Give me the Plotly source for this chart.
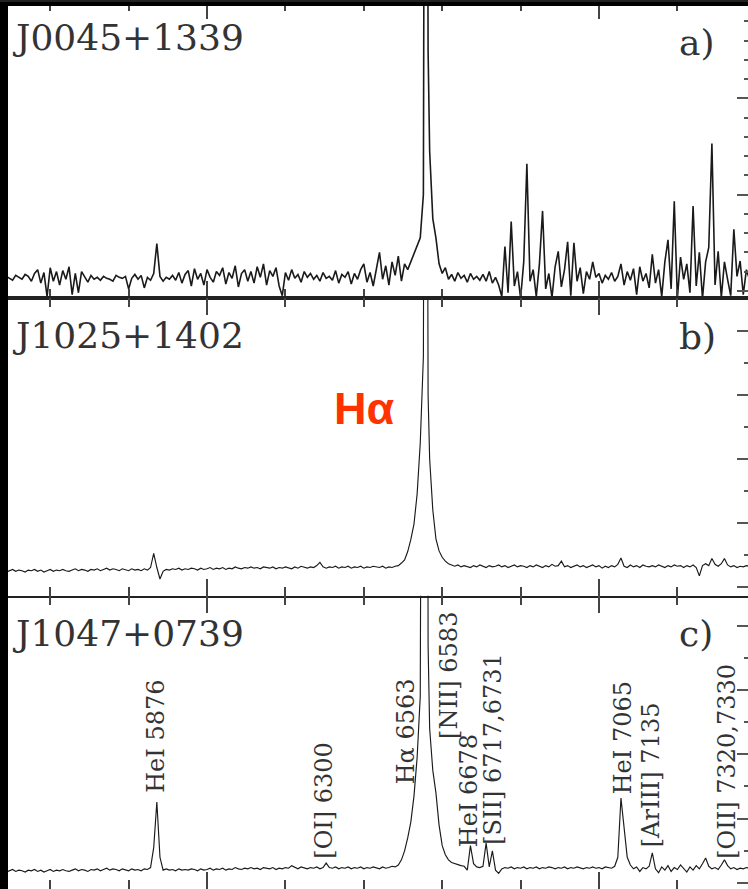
import plotly.graph_objects as go

# ---------------- data ----------------
wavelength = [
    5472, 5480, 5488, 5496, 5504, 5512, 5520, 5528, 5536, 5544,
    5552, 5560, 5568, 5576, 5584, 5592, 5600, 5608, 5616, 5624,
    5632, 5640, 5648, 5656, 5664, 5672, 5680, 5688, 5696, 5704,
    5712, 5720, 5728, 5736, 5744, 5752, 5760, 5768, 5776, 5784,
    5792, 5800, 5808, 5816, 5824, 5832, 5840, 5848, 5856, 5864,
    5872, 5880, 5888, 5896, 5904, 5912, 5920, 5928, 5936, 5944,
    5952, 5960, 5968, 5976, 5984, 5992, 6000, 6008, 6016, 6024,
    6032, 6040, 6048, 6056, 6064, 6072, 6080, 6088, 6096, 6104,
    6112, 6120, 6128, 6136, 6144, 6152, 6160, 6168, 6176, 6184,
    6192, 6200, 6208, 6216, 6224, 6232, 6240, 6248, 6256, 6264,
    6272, 6280, 6288, 6296, 6304, 6312, 6320, 6328, 6336, 6344,
    6352, 6360, 6368, 6376, 6384, 6392, 6400, 6408, 6416, 6424,
    6432, 6440, 6448, 6456, 6464, 6472, 6480, 6488, 6496, 6504,
    6512, 6520, 6528, 6536, 6544, 6552, 6558, 6564, 6568, 6576,
    6584, 6592, 6600, 6608, 6616, 6624, 6632, 6640, 6648, 6656,
    6664, 6672, 6680, 6688, 6696, 6704, 6712, 6720, 6728, 6736,
    6744, 6752, 6760, 6768, 6776, 6784, 6792, 6800, 6808, 6816,
    6824, 6832, 6840, 6848, 6856, 6864, 6872, 6880, 6888, 6896,
    6904, 6912, 6920, 6928, 6936, 6944, 6952, 6960, 6968, 6976,
    6984, 6992, 7000, 7008, 7016, 7024, 7032, 7040, 7048, 7056,
    7064, 7072, 7080, 7088, 7096, 7104, 7112, 7120, 7128, 7136,
    7144, 7152, 7160, 7168, 7176, 7184, 7192, 7200, 7208, 7216,
    7224, 7232, 7240, 7248, 7256, 7264, 7272, 7280, 7288, 7296,
    7304, 7312, 7320, 7328, 7336, 7344, 7352, 7360, 7368, 7376,
    7384,
]

flux_a = [  # J0045+1339
    0.14, 0.12, 0.15, 0.13, 0.11, 0.16, 0.14, 0.12, 0.17, 0.15,
    0.10, 0.18, 0.22, 0.08, 0.19, -0.06, 0.24, 0.10, 0.20, 0.06,
    0.21, 0.12, 0.25, -0.04, 0.18, -0.02, 0.20, 0.14, 0.09, 0.16,
    0.12, 0.14, 0.11, 0.15, 0.13, 0.12, 0.10, 0.16, 0.14, 0.13,
    0.15, 0.02, 0.13, 0.17, 0.12, 0.16, 0.03, 0.14, 0.11, 0.18,
    0.49, 0.15, 0.10, 0.14, 0.12, 0.16, 0.11, 0.19, 0.08, 0.17,
    0.21, 0.05, 0.23, 0.12, 0.18, 0.06, 0.22, 0.14, 0.09, 0.20,
    0.16, 0.24, 0.07, 0.19, 0.13, 0.26, 0.04, 0.18, 0.22, 0.10,
    0.20, 0.08, 0.25, 0.14, 0.28, 0.06, 0.21, 0.15, 0.24, 0.05,
    -0.05, 0.19, 0.11, 0.22, 0.13, 0.17, 0.09, 0.20, 0.14, 0.18,
    0.12, 0.16, 0.10, 0.19, 0.13, 0.15, 0.11, 0.21, 0.08, 0.17,
    0.14, 0.20, 0.07, 0.18, 0.12, 0.22, 0.28, 0.09, 0.19, 0.05,
    0.24, 0.40, 0.12, 0.26, 0.06, 0.30, 0.16, 0.36, 0.10, 0.28,
    0.22, 0.30, 0.39, 0.45, 0.55, 1.00, 12.0, 2.50, 1.45, 0.75,
    0.55, 0.28, 0.18, 0.24, 0.12, 0.17, 0.10, 0.19, 0.13, 0.16,
    0.09, 0.18, 0.12, 0.15, 0.11, 0.17, 0.10, 0.20, 0.08, 0.14,
    0.06, -0.06, 0.46, -0.02, 0.72, 0.05, 0.20, -0.08, 0.30, 1.32,
    0.10, 0.22, -0.06, 0.28, 0.83, 0.02, 0.18, -0.07, 0.25, 0.41,
    0.04, 0.22, 0.51, -0.05, 0.50, 0.10, 0.24, -0.03, 0.20, 0.12,
    0.30, 0.14, 0.18, 0.08, 0.16, 0.12, 0.19, 0.10, 0.15, 0.28,
    0.06, 0.20, 0.11, 0.23, -0.04, 0.25, 0.10, 0.18, 0.03, 0.38,
    0.08, 0.22, -0.06, 0.30, 0.53, 0.02, 0.93, -0.08, 0.35, 0.12,
    0.28, -0.02, 0.88, 0.05, 0.40, -0.08, 0.30, 0.45, 1.53, 0.06,
    0.41, -0.07, 0.30, 0.12, -0.05, 0.64, 0.15, 0.31, -0.04, 0.22,
    0.12,
]

flux_b = [  # J1025+1402
    0.24, 0.26, 0.23, 0.25, 0.27, 0.24, 0.26, 0.25, 0.23, 0.26,
    0.25, 0.27, 0.24, 0.26, 0.23, 0.25, 0.27, 0.24, 0.26, 0.25,
    0.27, 0.25, 0.24, 0.26, 0.28, 0.25, 0.27, 0.26, 0.24, 0.27,
    0.26, 0.28, 0.25, 0.27, 0.29, 0.26, 0.28, 0.27, 0.25, 0.28,
    0.27, 0.25, 0.28, 0.26, 0.27, 0.25, 0.28, 0.26, 0.30, 0.52,
    0.30, 0.12, 0.24, 0.27, 0.26, 0.28, 0.27, 0.29, 0.26, 0.28,
    0.27, 0.29, 0.28, 0.26, 0.29, 0.27, 0.28, 0.30, 0.27, 0.29,
    0.28, 0.30, 0.27, 0.29, 0.28, 0.31, 0.29, 0.28, 0.30, 0.29,
    0.31, 0.29, 0.30, 0.28, 0.31, 0.30, 0.29, 0.31, 0.28, 0.30,
    0.29, 0.31, 0.30, 0.28, 0.31, 0.29, 0.32, 0.30, 0.29, 0.31,
    0.30, 0.33, 0.38, 0.31, 0.29, 0.31, 0.30, 0.32, 0.29, 0.31,
    0.30, 0.32, 0.29, 0.31, 0.30, 0.32, 0.29, 0.31, 0.30, 0.32,
    0.31, 0.30, 0.32, 0.29, 0.31, 0.30, 0.32, 0.33, 0.37, 0.42,
    0.55, 0.74, 0.98, 1.45, 2.25, 3.60, 18.0, 3.00, 2.00, 1.20,
    0.75, 0.56, 0.46, 0.40, 0.36, 0.34, 0.32, 0.34, 0.31, 0.33,
    0.32, 0.30, 0.33, 0.31, 0.34, 0.32, 0.30, 0.33, 0.31, 0.32,
    0.34, 0.31, 0.33, 0.30, 0.32, 0.34, 0.31, 0.33, 0.32, 0.30,
    0.33, 0.31, 0.34, 0.32, 0.30, 0.33, 0.31, 0.35, 0.32, 0.33,
    0.40, 0.31, 0.33, 0.30, 0.32, 0.34, 0.31, 0.33, 0.30, 0.32,
    0.34, 0.31, 0.33, 0.29, 0.32, 0.30, 0.33, 0.31, 0.35, 0.45,
    0.32, 0.30, 0.34, 0.31, 0.33, 0.30, 0.34, 0.32, 0.31, 0.33,
    0.31, 0.34, 0.32, 0.30, 0.33, 0.31, 0.34, 0.32, 0.33, 0.30,
    0.33, 0.31, 0.34, 0.30, 0.17, 0.33, 0.36, 0.33, 0.44, 0.35,
    0.32, 0.36, 0.44, 0.34, 0.31, 0.33, 0.30, 0.32, 0.31, 0.33,
    0.32,
]

flux_c = [  # J1047+0739
    0.18, 0.20, 0.17, 0.19, 0.21, 0.18, 0.20, 0.19, 0.17, 0.20,
    0.19, 0.21, 0.18, 0.20, 0.17, 0.19, 0.21, 0.18, 0.20, 0.19,
    0.21, 0.19, 0.18, 0.20, 0.22, 0.19, 0.21, 0.20, 0.18, 0.21,
    0.20, 0.22, 0.19, 0.21, 0.23, 0.20, 0.22, 0.21, 0.19, 0.22,
    0.21, 0.19, 0.22, 0.20, 0.21, 0.19, 0.22, 0.21, 0.24, 0.55,
    1.26, 0.40, 0.20, 0.22, 0.20, 0.21, 0.19, 0.22, 0.20, 0.21,
    0.20, 0.22, 0.21, 0.19, 0.22, 0.20, 0.21, 0.23, 0.20, 0.22,
    0.21, 0.23, 0.20, 0.22, 0.21, 0.24, 0.22, 0.21, 0.23, 0.22,
    0.24, 0.22, 0.23, 0.21, 0.24, 0.23, 0.22, 0.24, 0.21, 0.23,
    0.22, 0.24, 0.23, 0.27, 0.24, 0.22, 0.25, 0.23, 0.22, 0.24,
    0.23, 0.25, 0.22, 0.24, 0.31, 0.24, 0.23, 0.25, 0.22, 0.24,
    0.23, 0.25, 0.22, 0.24, 0.23, 0.25, 0.22, 0.24, 0.23, 0.25,
    0.24, 0.22, 0.25, 0.23, 0.24, 0.26, 0.25, 0.28, 0.36, 0.50,
    0.70, 0.95, 1.35, 1.95, 2.90, 5.50, 30.0, 3.70, 2.40, 1.75,
    1.40, 0.90, 0.58, 0.44, 0.36, 0.32, 0.30, 0.28, 0.27, 0.26,
    0.20, 0.58, 0.30, 0.25, 0.24, 0.26, 0.62, 0.25, 0.50, 0.20,
    0.15, 0.22, 0.24, 0.23, 0.25, 0.22, 0.24, 0.23, 0.25, 0.22,
    0.24, 0.23, 0.25, 0.22, 0.24, 0.23, 0.25, 0.24, 0.22, 0.24,
    0.23, 0.25, 0.22, 0.24, 0.23, 0.25, 0.24, 0.22, 0.24, 0.23,
    0.25, 0.23, 0.24, 0.22, 0.25, 0.24, 0.23, 0.26, 0.40, 1.32,
    0.80, 0.40, 0.28, 0.22, 0.25, 0.18, 0.24, 0.22, 0.26, 0.47,
    0.22, 0.16, 0.25, 0.20, 0.27, 0.18, 0.24, 0.21, 0.28, 0.22,
    0.17, 0.25, 0.20, 0.27, 0.22, 0.30, 0.39, 0.26, 0.22, 0.24,
    0.21, 0.28, 0.36, 0.27, 0.22, 0.24, 0.21, 0.23, 0.22, 0.24,
    0.23,
]

object_names = ["J0045+1339", "J1025+1402", "J1047+0739"]
panel_letters = ["a)", "b)", "c)"]
line_labels = ["HeI 5876", "[OI] 6300", "H\u03b1 6563", "[NII] 6583", "HeI 6678",
               "[SII] 6717,6731", "HeI 7065", "[ArIII] 7135", "[OII] 7320,7330"]
highlight_text = "H\u03b1"

assert len(wavelength) == len(flux_a) == len(flux_b) == len(flux_c)

# ---------------- layout helpers ----------------
W, H = 748, 889


def fx(px):
    return px / W


def fy(py):
    return 1 - py / H


panel_px = [(0, 297), (297, 595), (595, 889)]
y_ranges = [[-0.078, 3.0], [-0.1406, 4.5156], [-0.093, 4.465]]
y_minor = [0.2, 0.5, 0.5]
line_widths = [1.6, 1.15, 1.15]
name_cy = [35.5, 334.5, 632.5]
letter_cy = [41, 335, 632.5]
label_pos = [(156.5, 736), (324.5, 800), (405.5, 731.5), (449, 674.5), (469, 790),
             (493.5, 749), (622.5, 737.5), (650.5, 774.5), (727, 761.5)]

serif = "DejaVu Serif"
ink = "#1a1a1a"
text_col = "#333333"
tick_col = "#444444"

fig = go.Figure()
fluxes = [flux_a, flux_b, flux_c]
layout = dict(
    width=W, height=H, margin=dict(l=0, r=0, t=0, b=0),
    paper_bgcolor="white", plot_bgcolor="white", showlegend=False,
)

for k in range(3):
    sfx = "" if k == 0 else str(k + 1)
    fig.add_trace(go.Scatter(
        x=wavelength, y=fluxes[k], mode="lines",
        line=dict(color=ink, width=line_widths[k]),
        xaxis="x" + sfx, yaxis="y" + sfx, hoverinfo="skip",
    ))
    top, bot = panel_px[k]
    layout["xaxis" + sfx] = dict(
        domain=[0, 1], range=[5471.9, 7380.1], anchor="y" + sfx,
        showticklabels=False, ticks="inside", ticklen=17, tickwidth=1.5,
        tickcolor=tick_col, tick0=0, dtick=1000,
        minor=dict(ticks="inside", ticklen=9, tickwidth=1.5, tickcolor=tick_col,
                   tick0=0, dtick=200, showgrid=False),
        mirror="ticks", showline=(k < 2), linecolor="#222222", linewidth=2,
        showgrid=False, zeroline=False, fixedrange=True,
    )
    layout["yaxis" + sfx] = dict(
        domain=[fy(bot), fy(top)], range=y_ranges[k], anchor="x" + sfx,
        side="right", showticklabels=False, ticks="inside", ticklen=11,
        tickwidth=1.5, tickcolor="#555555", tick0=0, dtick=1,
        minor=dict(ticks="inside", ticklen=4, tickwidth=1.5, tickcolor="#555555",
                   tick0=0, dtick=y_minor[k], showgrid=False),
        showline=False, showgrid=False, zeroline=False, fixedrange=True,
    )

annotations = []
for k in range(3):
    annotations.append(dict(
        text=object_names[k], xref="paper", yref="paper", x=fx(10), y=fy(name_cy[k]),
        xanchor="left", yanchor="middle", showarrow=False,
        font=dict(family=serif, size=36, color=text_col),
    ))
    annotations.append(dict(
        text=panel_letters[k], xref="paper", yref="paper", x=fx(677), y=fy(letter_cy[k]),
        xanchor="left", yanchor="middle", showarrow=False,
        font=dict(family=serif, size=36, color=text_col),
    ))

for txt, (cx, cy) in zip(line_labels, label_pos):
    annotations.append(dict(
        text=txt, xref="paper", yref="paper", x=fx(cx), y=fy(cy),
        xanchor="center", yanchor="middle", textangle=-90, showarrow=False,
        font=dict(family=serif, size=24, color=text_col),
    ))

annotations.append(dict(
    text="<b>" + highlight_text + "</b>", xref="paper", yref="paper",
    x=fx(363.5), y=fy(407), xanchor="center", yanchor="middle", showarrow=False,
    font=dict(family="Liberation Sans, Arial, sans-serif", size=45, color="#ff3300"),
))
layout["annotations"] = annotations

layout["shapes"] = [
    dict(type="rect", xref="paper", yref="paper", x0=0, x1=fx(8), y0=0, y1=1,
         fillcolor="black", line=dict(width=0), layer="above"),
    dict(type="rect", xref="paper", yref="paper", x0=0, x1=1, y0=fy(4), y1=1,
         fillcolor="black", line=dict(width=0), layer="above"),
]

fig.update_layout(**layout)
fig.write_html("out.html", config={"displayModeBar": False})
